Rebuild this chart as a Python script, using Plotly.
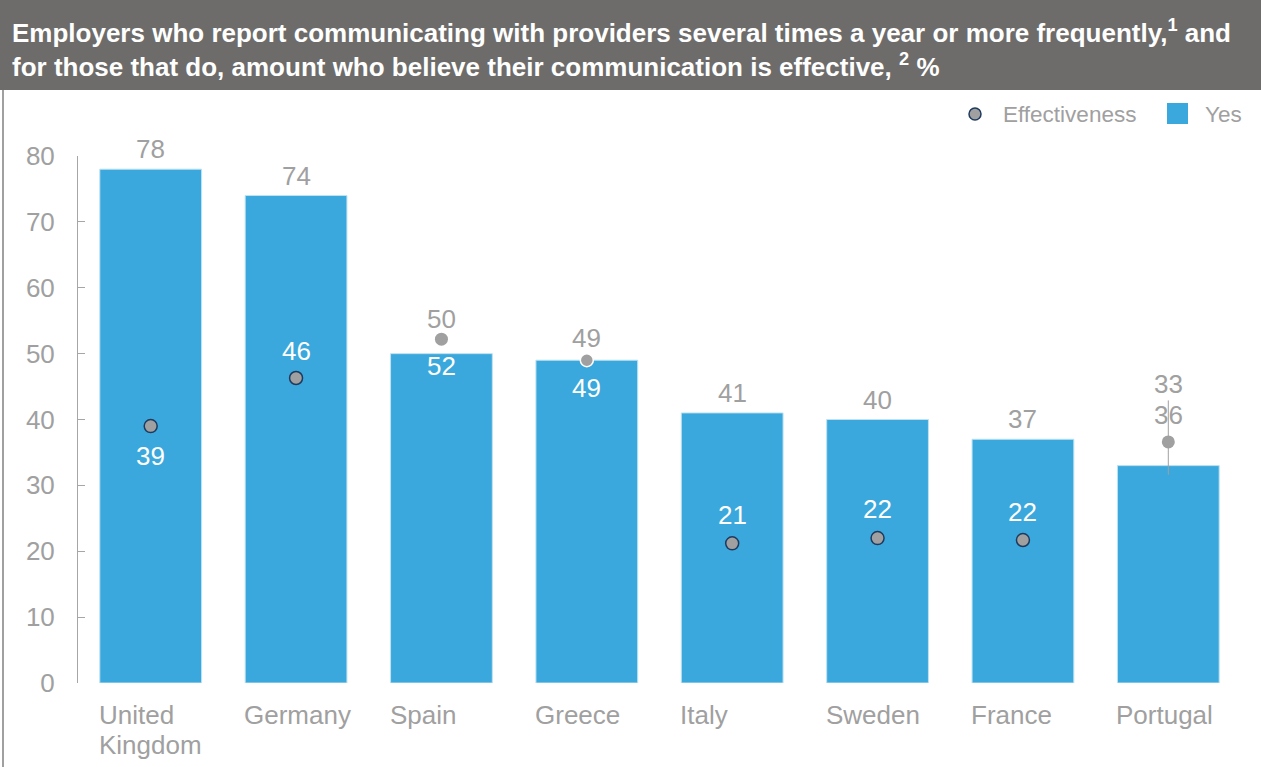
import plotly.graph_objects as go

countries = ["United<br>Kingdom", "Germany", "Spain", "Greece", "Italy", "Sweden", "France", "Portugal"]
yes_values = [78, 74, 50, 49, 41, 40, 37, 33]
effectiveness = [39, 46, 52, 49, 21, 22, 22, 36]
eff_plot_y = [39, 46.3, 52.2, 49, 21.2, 22, 21.7, 36.6]
err_plus = [0, 0, 0, 0, 0, 0, 0, 6.3]
err_minus = [0, 0, 0, 0, 0, 0, 0, 5]

# label placement (pixels)
bar_label_shift = [20, 20, 35, 22, 20, 20, 20, 82]
eff_label_shift = [-30, 27, -27, -28, 28, 29, 28, 27]
eff_label_color = ["white"] * 7 + ["#A0A0A0"]
eff_line_color = ["#1F3A5F", "#1F3A5F", "#A0A0A0", "white", "#1F3A5F", "#1F3A5F", "#1F3A5F", "#A0A0A0"]
eff_line_width = [1.5, 1.5, 0, 1.5, 1.5, 1.5, 1.5, 0]

BLUE = "#3AA8DC"
GREY = "#A0A0A0"
FONT = "Liberation Sans, Arial, sans-serif"

W, H = 1261, 767
L, R, T, B = 78, 1241, 156, 683


def px(x):
    return (x - L) / (R - L)


def py(y):
    return (B - y) / (B - T)


x = list(range(len(countries)))

fig = go.Figure()
fig.add_trace(go.Bar(x=x, y=yes_values, width=0.7, marker=dict(color=BLUE, line=dict(color="#BDE2F3", width=1)),
                     showlegend=False, hoverinfo="y", cliponaxis=False))
fig.add_trace(go.Scatter(x=x, y=eff_plot_y, mode="markers", showlegend=False,
                         marker=dict(size=13, color=GREY, line=dict(color=eff_line_color, width=eff_line_width)),
                         error_y=dict(type="data", symmetric=False, array=err_plus, arrayminus=err_minus,
                                      color=GREY, thickness=1, width=0),
                         cliponaxis=False))

annotations = []
for i in range(len(countries)):
    annotations.append(dict(x=i, y=yes_values[i], text=str(yes_values[i]), showarrow=False,
                            yanchor="middle", yshift=bar_label_shift[i],
                            font=dict(size=26, color=GREY, family=FONT)))
    annotations.append(dict(x=i, y=eff_plot_y[i], text=str(effectiveness[i]), showarrow=False,
                            yanchor="middle", yshift=eff_label_shift[i],
                            font=dict(size=26, color=eff_label_color[i], family=FONT)))
    for k, line in enumerate(countries[i].split("<br>")):
        annotations.append(dict(x=i - 0.35, y=0, text=line, showarrow=False, align="left",
                                xanchor="left", yanchor="middle", xshift=-3, yshift=-32 - 30 * k,
                                font=dict(size=26, color=GREY, family=FONT)))

# title
annotations.append(dict(xref="paper", yref="paper", x=px(10), y=py(48), xanchor="left", yanchor="middle",
                        align="left", showarrow=False,
                        text="<b>Employers who report communicating with providers several times a year or more frequently,<sup>1</sup> and<br>"
                             "for those that do, amount who believe their communication is effective, <sup>2</sup> %</b>",
                        font=dict(size=26, color="white", family=FONT)))
# legend
annotations.append(dict(xref="paper", yref="paper", x=px(1001), y=py(114), xanchor="left", yanchor="middle",
                        text="Effectiveness", showarrow=False, font=dict(size=22.5, color=GREY, family=FONT)))
annotations.append(dict(xref="paper", yref="paper", x=px(1203), y=py(114), xanchor="left", yanchor="middle",
                        text="Yes", showarrow=False, font=dict(size=22.5, color=GREY, family=FONT)))

shapes = [
    dict(type="rect", xref="paper", yref="paper", x0=px(0), x1=px(W), y0=py(90), y1=py(0),
         fillcolor="#6E6C6A", line=dict(width=0), layer="below"),
    dict(type="line", xref="paper", yref="paper", x0=px(3), x1=px(3), y0=py(90), y1=py(H),
         line=dict(color="#808080", width=1.5)),
    dict(type="circle", xref="paper", yref="paper", x0=px(969), x1=px(981), y0=py(120), y1=py(108),
         fillcolor=GREY, line=dict(color="#1F3A5F", width=1.5)),
    dict(type="rect", xref="paper", yref="paper", x0=px(1167), x1=px(1188), y0=py(124), y1=py(103),
         fillcolor=BLUE, line=dict(width=0)),
]

fig.update_layout(
    width=W, height=H,
    margin=dict(l=L, r=W - R, t=T, b=H - B),
    plot_bgcolor="white", paper_bgcolor="white",
    font=dict(family=FONT, color=GREY),
    xaxis=dict(range=[-0.5, len(countries) - 0.5], showticklabels=False, showgrid=False, zeroline=False,
               showline=False, ticks=""),
    yaxis=dict(range=[0, 80], dtick=10, ticks="inside", ticklen=7, tickcolor="#A6A6A6",
               showline=True, linecolor="#A6A6A6", linewidth=1, showgrid=False, zeroline=False,
               tickfont=dict(size=26, color=GREY), ticklabelstandoff=17),
    annotations=annotations,
    shapes=shapes,
    showlegend=False,
)

fig.write_html("out.html", config={"displayModeBar": False},
               post_script="document.body.style.margin='0px';")
